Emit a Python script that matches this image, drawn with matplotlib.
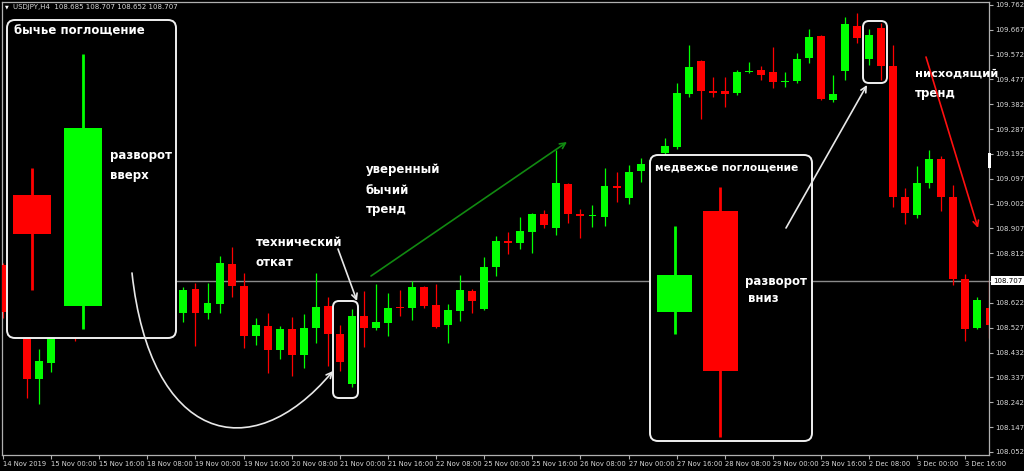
import numpy as np
import matplotlib
matplotlib.use("Agg")
import matplotlib.pyplot as plt
from matplotlib.patches import Rectangle, FancyBboxPatch, FancyArrowPatch
from matplotlib.path import Path

# USDJPY H4 candles
opens = [108.767, 108.595, 108.557, 108.331, 108.392, 108.557, 108.633, 108.549, 108.614, 108.576,
         108.652, 108.691, 108.633, 108.576, 108.633, 108.584, 108.675, 108.584, 108.618, 108.771,
         108.687, 108.496, 108.534, 108.442, 108.522, 108.423, 108.526, 108.610, 108.503, 108.312,
         108.572, 108.526, 108.545, 108.607, 108.603, 108.683, 108.614, 108.538, 108.591, 108.668,
         108.599, 108.760, 108.859, 108.851, 108.894, 108.962, 108.909, 109.077, 108.962, 108.953,
         108.951, 109.070, 109.024, 109.127, 109.112, 109.196, 109.219, 109.422, 109.548, 109.433,
         109.431, 109.425, 109.504, 109.513, 109.506, 109.466, 109.471, 109.559, 109.643, 109.399,
         109.510, 109.682, 109.555, 109.674, 109.529, 109.027, 108.959, 109.081, 109.173, 109.027,
         108.714, 108.526, 108.603]
highs = [108.775, 108.633, 108.595, 108.446, 108.587, 108.664, 108.652, 108.633, 108.641, 108.672,
         108.717, 108.710, 108.652, 108.652, 108.652, 108.683, 108.698, 108.698, 108.802, 108.836,
         108.737, 108.564, 108.584, 108.534, 108.568, 108.580, 108.737, 108.645, 108.538, 108.599,
         108.668, 108.695, 108.660, 108.672, 108.706, 108.687, 108.695, 108.618, 108.729, 108.675,
         108.798, 108.878, 108.894, 108.951, 108.966, 108.978, 109.207, 109.081, 108.982, 108.997,
         109.138, 109.123, 109.150, 109.177, 109.180, 109.253, 109.464, 109.609, 109.552, 109.487,
         109.487, 109.513, 109.544, 109.529, 109.601, 109.506, 109.578, 109.670, 109.647, 109.494,
         109.716, 109.731, 109.670, 109.693, 109.609, 109.062, 109.146, 109.207, 109.184, 109.073,
         108.733, 108.645, 108.710]
lows = [108.564, 108.519, 108.258, 108.235, 108.358, 108.538, 108.476, 108.519, 108.538, 108.557,
        108.633, 108.595, 108.538, 108.557, 108.564, 108.549, 108.457, 108.561, 108.584, 108.645,
        108.450, 108.461, 108.354, 108.408, 108.343, 108.373, 108.469, 108.381, 108.362, 108.300,
        108.454, 108.519, 108.496, 108.572, 108.557, 108.603, 108.526, 108.469, 108.553, 108.584,
        108.595, 108.725, 108.809, 108.828, 108.813, 108.909, 108.882, 108.928, 108.871, 108.913,
        108.916, 109.008, 109.001, 109.085, 109.092, 109.184, 109.211, 109.410, 109.326, 109.410,
        109.372, 109.418, 109.502, 109.475, 109.444, 109.448, 109.464, 109.540, 109.399, 109.391,
        109.475, 109.617, 109.532, 109.475, 108.989, 108.924, 108.947, 109.062, 108.974, 108.691,
        108.476, 108.522, 108.488]
closes = [108.587, 108.614, 108.331, 108.400, 108.557, 108.633, 108.549, 108.614, 108.576, 108.652,
          108.691, 108.633, 108.576, 108.633, 108.584, 108.672, 108.584, 108.622, 108.775, 108.687,
          108.496, 108.538, 108.442, 108.522, 108.423, 108.526, 108.607, 108.503, 108.396, 108.572,
          108.526, 108.549, 108.603, 108.601, 108.683, 108.610, 108.530, 108.595, 108.672, 108.630,
          108.760, 108.859, 108.850, 108.897, 108.962, 108.920, 109.081, 108.962, 108.955, 108.959,
          109.070, 109.062, 109.123, 109.154, 109.169, 109.223, 109.425, 109.525, 109.433, 109.425,
          109.423, 109.506, 109.510, 109.494, 109.467, 109.471, 109.555, 109.640, 109.402, 109.422,
          109.689, 109.636, 109.647, 109.529, 109.027, 108.966, 109.081, 109.173, 109.027, 108.714,
          108.522, 108.633, 108.538]

date_labels = ['14 Nov 2019', '15 Nov 00:00', '15 Nov 16:00', '18 Nov 08:00', '19 Nov 00:00',
               '19 Nov 16:00', '20 Nov 08:00', '21 Nov 00:00', '21 Nov 16:00', '22 Nov 08:00',
               '25 Nov 00:00', '25 Nov 16:00', '26 Nov 08:00', '27 Nov 00:00', '27 Nov 16:00',
               '28 Nov 08:00', '29 Nov 00:00', '29 Nov 16:00', '2 Dec 08:00', '3 Dec 00:00',
               '3 Dec 16:00']
price_ticks = [109.762, 109.667, 109.572, 109.477, 109.382, 109.287, 109.192, 109.097, 109.002,
               108.907, 108.812, 108.707, 108.622, 108.527, 108.432, 108.337, 108.242, 108.147, 108.052]
last_price = 108.707
header = 'USDJPY,H4  108.685 108.707 108.652 108.707'

# illustration candles inside the two boxes (relative units 0..100)
bull_demo_open = [45.0, 10.1]
bull_demo_high = [53.5, 89.3]
bull_demo_low = [15.1, 2.8]
bull_demo_close = [32.7, 66.0]
bear_demo_open = [45.1, 80.4]
bear_demo_high = [75.2, 88.8]
bear_demo_low = [37.4, 1.4]
bear_demo_close = [58.0, 24.5]

BULL = '#00ff00'
BEAR = '#ff0000'
FG = '#d8d8d8'
W, H = 1024, 471


def draw_candles(ax, o, h, l, c, width, wick_lw=0.9, min_body=0.0):
    for i in range(len(o)):
        col = BULL if c[i] >= o[i] else BEAR
        ax.vlines(i, l[i], h[i], color=col, lw=wick_lw, zorder=2)
        lo = min(o[i], c[i])
        body = max(abs(c[i] - o[i]), min_body)
        ax.add_patch(Rectangle((i - width / 2, lo), width, body,
                               facecolor=col, edgecolor='none', zorder=3))


def blank_axes(a):
    a.set_facecolor('black')
    a.set_xticks([])
    a.set_yticks([])
    for s in a.spines.values():
        s.set_visible(False)


fig = plt.figure(figsize=(W / 100, H / 100), dpi=100)
fig.patch.set_facecolor('black')

# main chart
ax = fig.add_axes([2 / W, 16 / H, 987 / W, 453 / H])
ax.set_facecolor('black')
draw_candles(ax, opens, highs, lows, closes, 0.66, min_body=0.004)
ax.set_xlim(-0.083, 81.96)
ax.set_ylim(108.0403, 109.7734)
ax.axhline(last_price, color='#8a8a8a', lw=1.0, zorder=1)

for s in ax.spines.values():
    s.set_color('#b0b0b0')
    s.set_linewidth(0.9)
ax.yaxis.tick_right()
ax.set_yticks(price_ticks)
# the last price tick is shown in the white price box instead
ax.set_yticklabels(['' if p == last_price else '%.3f' % p for p in price_ticks])
ax.set_xticks(range(0, len(opens), 4))
ax.set_xticklabels(date_labels, ha='left')
ax.tick_params(axis='y', colors='#b0b0b0', labelcolor=FG, labelsize=5,
               length=3, width=0.8, pad=1.5)
ax.tick_params(axis='x', colors='#b0b0b0', labelcolor=FG, labelsize=4.9,
               length=3, width=0.8, pad=1.5)
ax.text(1.004, last_price, '%.3f' % last_price, transform=ax.get_yaxis_transform(),
        fontsize=5, color='black', va='center', ha='left',
        bbox=dict(boxstyle='square,pad=0.25', facecolor='white', edgecolor='none'))

# box insets with illustration candles
ax_b1 = fig.add_axes([7 / W, (H - 338) / H, 169 / W, 318 / H])
blank_axes(ax_b1)
draw_candles(ax_b1, bull_demo_open, bull_demo_high, bull_demo_low, bull_demo_close, 0.74, wick_lw=2)
ax_b1.set_xlim(-0.485, 2.80)
ax_b1.set_ylim(0, 100)

ax_b2 = fig.add_axes([650 / W, (H - 441) / H, 162 / W, 286 / H])
blank_axes(ax_b2)
draw_candles(ax_b2, bear_demo_open, bear_demo_high, bear_demo_low, bear_demo_close, 0.76, wick_lw=2)
ax_b2.set_xlim(-0.533, 2.99)
ax_b2.set_ylim(0, 100)

# overlay for annotations (pixel units)
ov = fig.add_axes([0, 0, 1, 1])
ov.set_xlim(0, W)
ov.set_ylim(H, 0)
ov.axis('off')

for (x, y, w, h, r) in [(7, 20, 169, 318, 8), (650, 155, 162, 286, 8),
                        (333, 301, 25, 97, 6), (863, 21, 24, 62, 6)]:
    ov.add_patch(FancyBboxPatch((x, y), w, h, boxstyle='round,pad=0,rounding_size=%d' % r,
                                facecolor='none', edgecolor='#f0f0f0', lw=1.4))

ov.text(5, 7, '\u25bc', color='white', fontsize=3.5, va='center', ha='left')
ov.text(13, 7.5, header, color=FG, fontsize=5, va='center', ha='left')

tkw = dict(color='white', fontsize=8.5, fontweight='bold', va='center', ha='left')
ov.text(14, 31, 'бычье поглощение', **tkw)
ov.text(110, 156, 'разворот', **tkw)
ov.text(110, 176, 'вверх', **tkw)
ov.text(655, 167, 'медвежье поглощение', color='white', fontsize=7.7, fontweight='bold',
        va='center', ha='left')
ov.text(745, 282, 'разворот', **tkw)
ov.text(748, 299, 'вниз', **tkw)
ov.text(256, 243, 'технический', **tkw)
ov.text(256, 262, 'откат', **tkw)
ov.text(366, 169, 'уверенный', **tkw)
ov.text(366, 190, 'бычий', **tkw)
ov.text(366, 209, 'тренд', **tkw)
ov.text(915, 74, 'нисходящий', color='white', fontsize=8.2, fontweight='bold', va='center', ha='left')
ov.text(915, 93, 'тренд', **tkw)

akw = dict(arrowstyle='->', mutation_scale=10, lw=1.2, shrinkA=0, shrinkB=0)
ov.annotate('', xy=(567, 142), xytext=(371, 276), arrowprops=dict(color='#118a11', **akw))
ov.annotate('', xy=(978, 228), xytext=(926, 57), arrowprops=dict(color='#ff1010', **akw))
ov.annotate('', xy=(357, 301), xytext=(338, 249), arrowprops=dict(color='#e8e8e8', **akw))
ov.annotate('', xy=(867, 85), xytext=(786, 228), arrowprops=dict(color='#e8e8e8', **akw))
curve = Path([(132, 273), (150, 440), (250, 470), (333, 371)],
             [Path.MOVETO, Path.CURVE4, Path.CURVE4, Path.CURVE4])
ov.add_patch(FancyArrowPatch(path=curve, color='#e8e8e8', **akw))

# small white marker on the price scale
ov.add_patch(Rectangle((988, 153), 3, 15, facecolor='white', edgecolor='none'))

fig.savefig('out.png', dpi=100, facecolor='black')
